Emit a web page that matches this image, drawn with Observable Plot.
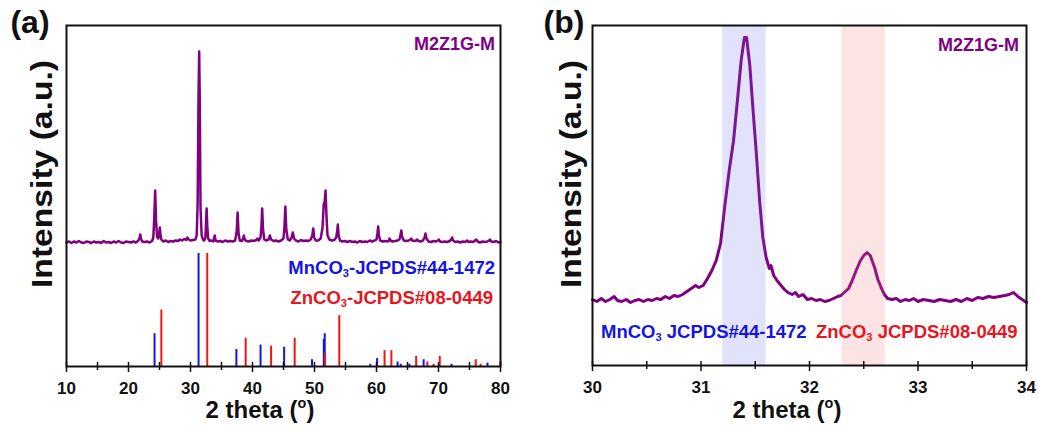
<!DOCTYPE html>
<html><head><meta charset="utf-8">
<script src="https://cdn.jsdelivr.net/npm/d3@7"></script>
<script src="https://cdn.jsdelivr.net/npm/@observablehq/plot@0.6"></script>
<style>
body{margin:0;background:#fff;}
#wrap{position:relative;width:1038px;height:432px;overflow:hidden;font-family:"Liberation Sans",Arial,sans-serif;font-weight:bold;color:#111;}
#wrap svg{position:absolute;top:0;}
.lbl{position:absolute;white-space:nowrap;line-height:1;}
.lbl sub{font-size:0.6em;vertical-align:-0.35em;}
.lbl sup{font-size:0.6em;vertical-align:0.7em;}
</style></head><body><div id="wrap"></div>
<script>
// ---------- Panel (a): full XRD pattern, 2θ (deg) vs intensity above baseline ----------
const patternA = [
[10.0,1],[10.4,2],[10.8,0.5],[11.2,2],[11.6,1],[12.0,2.5],[12.4,1],[12.8,0.5],[13.2,2],[13.6,1.5],
[14.0,0.5],[14.4,2],[14.8,1],[15.2,1.5],[15.6,0.5],[16.0,2.5],[16.4,1],[16.8,1.5],[17.2,0.5],[17.6,2],
[18.0,1],[18.4,2.5],[18.8,1],[19.2,0.5],[19.6,2],[20.0,1.5],[20.4,1],[20.8,2],[21.2,1],[21.6,3],
[21.8,6],[21.9,9],[22.0,5],[22.2,2],[22.6,1.5],[23.0,2],[23.4,1],[23.8,2.5],[24.0,6],[24.15,25],
[24.3,53],[24.45,22],[24.6,7],[24.8,5],[24.95,10],[25.05,16],[25.15,9],[25.3,4],[25.6,2],[26.0,3],
[26.4,1.5],[26.8,2.5],[27.2,2],[27.6,3],[28.0,2.5],[28.3,4],[28.6,3],[29.0,4.5],[29.3,3.5],[29.5,6],
[29.7,4],[30.0,3],[30.4,3.5],[30.8,4],[31.0,8],[31.15,40],[31.3,150],[31.4,192],[31.5,140],[31.62,35],
[31.8,8],[32.0,4],[32.2,3],[32.4,6],[32.5,20],[32.6,35],[32.7,18],[32.85,5],[33.1,2.5],[33.4,3],
[33.7,2],[33.9,8],[34.05,3],[34.4,2],[34.8,2.5],[35.2,1.5],[35.6,3],[36.0,2],[36.4,2.5],[36.8,2],
[37.2,3],[37.45,12],[37.6,31],[37.75,10],[37.95,3],[38.3,2.5],[38.5,5],[38.6,8],[38.75,4],[39.0,2.5],
[39.4,2],[39.8,3],[40.2,2.5],[40.6,3.5],[40.8,5],[41.0,3],[41.3,6],[41.45,18],[41.56,35],[41.7,14],
[41.9,4],[42.2,3],[42.6,4],[42.8,8],[43.0,4],[43.4,2.5],[43.8,3],[44.2,2],[44.6,3],[45.0,5],
[45.15,16],[45.3,37],[45.45,14],[45.7,4],[46.0,3],[46.3,6],[46.5,11],[46.7,5],[47.0,3],[47.4,2],
[47.8,3.5],[48.2,2.5],[48.6,3],[49.0,2.5],[49.4,4],[49.65,8],[49.8,15],[49.95,6],[50.2,3],[50.6,3],
[51.0,5],[51.3,16],[51.5,40],[51.65,42],[51.78,53],[51.95,25],[52.1,8],[52.4,4],[52.8,3],[53.2,3.5],
[53.5,6],[53.65,12],[53.76,19],[53.9,8],[54.1,3],[54.5,2],[54.9,2.5],[55.3,1.5],[55.7,2.5],[56.1,1.5],
[56.5,2],[56.9,1],[57.3,2.5],[57.7,1.5],[58.1,2],[58.5,1.5],[58.9,3],[59.3,2],[59.7,3],[60.0,4],
[60.15,10],[60.27,17],[60.4,8],[60.6,3],[61.0,2],[61.4,2.5],[61.8,2],[62.0,3],[62.1,5],[62.25,3],
[62.6,2],[63.0,2.5],[63.4,3],[63.7,4],[63.88,9],[64.0,13],[64.12,7],[64.4,3],[64.8,2.5],[65.2,3],
[65.45,4],[65.6,5],[65.75,3],[66.1,2.5],[66.4,3],[66.56,4],[66.75,2.5],[67.1,2],[67.5,3],[67.75,6],
[67.9,10],[68.05,5],[68.4,2],[68.8,1.5],[69.2,2.5],[69.6,2],[69.9,3],[70.05,4],[70.25,2],[70.6,1.5],
[71.0,2],[71.4,1.5],[71.8,2.5],[72.05,4],[72.2,6],[72.35,3],[72.7,1.5],[73.1,2],[73.5,1],[73.9,2],
[74.3,1.5],[74.6,3],[74.85,1.5],[75.2,2],[75.6,1.5],[75.9,3],[76.1,4],[76.3,2],[76.7,1],[77.1,2],
[77.5,1.5],[77.9,2],[78.15,3],[78.3,4],[78.5,2],[78.9,1.5],[79.3,2.5],[79.7,1],[80.0,1.5]
];
// Reference sticks: [2θ, relative intensity %]
const mnco3Sticks = [
[24.2,29],[31.3,100],[37.4,15],[41.3,19],[45.1,17],[49.6,6],[51.5,24],[51.65,29],
[59.0,2],[60.1,7],[63.4,4],[63.9,2],[65.3,2],[67.6,6],[72.1,2],[77.9,3]
];
const znco3Sticks = [
[25.3,50],[32.7,100],[38.9,25],[43.0,18],[46.8,25],[51.7,12],[54.0,45],[61.3,14],
[62.4,14],[66.4,9],[68.2,4],[69.2,2],[70.2,9],[76.0,6],[76.8,2],[80.0,4]
];
const ticksA = [10,20,30,40,50,60,70,80];
const minorTicksA = [15,25,35,45,55,65,75];

// ---------- Panel (b): zoomed region ----------
const patternB = [
[30.00,66],[30.04,64],[30.08,67],[30.12,64],[30.16,66],[30.20,69],[30.23,65],[30.27,64],[30.31,66],[30.35,63],
[30.39,65],[30.43,66],[30.47,64],[30.51,66],[30.55,65],[30.59,67],[30.63,66],[30.67,69],[30.71,67],[30.75,70],
[30.79,69],[30.83,71],[30.87,74],[30.91,77],[30.95,80],[30.98,78],[31.02,80],[31.06,87],[31.10,95],[31.14,105],
[31.18,122],[31.22,160],[31.26,195],[31.30,225],[31.34,270],[31.37,305],[31.40,328],[31.42,328],[31.45,300],[31.48,255],
[31.51,212],[31.54,165],[31.57,128],[31.60,108],[31.63,97],[31.645,100],[31.67,90],[31.70,85],[31.73,81],[31.77,76],
[31.80,73],[31.84,71],[31.87,73],[31.90,69],[31.94,71],[31.98,66],[32.02,67],[32.06,65],[32.10,66],[32.14,64],
[32.18,65],[32.22,67],[32.26,69],[32.29,70],[32.33,74],[32.36,77],[32.39,84],[32.43,95],[32.47,105],[32.50,110],
[32.53,113],[32.56,110],[32.60,98],[32.63,86],[32.66,78],[32.69,71],[32.72,67],[32.76,66],[32.80,67],[32.84,64],
[32.88,66],[32.92,65],[32.96,67],[33.00,64],[33.05,66],[33.10,65],[33.15,64],[33.20,66],[33.25,65],[33.30,64],
[33.35,66],[33.40,64],[33.45,67],[33.50,65],[33.55,68],[33.60,67],[33.65,69],[33.70,68],[33.75,69],[33.80,70],
[33.84,71],[33.88,73],[33.92,69],[33.96,66],[34.00,63]
];
const bandLo = [31.2, 32.3];
const bandHi = [31.6, 32.7];
const bandColor = ["#7070e8", "#f07878"];
const ticksB = [30,31,32,33,34];
const minorTicksB = [30.5,31.5,32.5,33.5];

const sampleName = "M2Z1G-M";
const font = "Liberation Sans, Arial, sans-serif";

const axisStyle = {fontSize: 17, fontWeight: "bold", fill: "#111"};

const plotA = Plot.plot({
  width: 520, height: 432,
  marginLeft: 66, marginRight: 20, marginTop: 25, marginBottom: 66,
  x: {domain: [10, 80]},
  y: {domain: [0, 341], axis: null},
  style: {fontFamily: font, fontWeight: "bold", background: "transparent", color: "#111", overflow: "visible"},
  marks: [
    Plot.ruleX(mnco3Sticks, {x: d => d[0], y1: 0, y2: d => d[1] * 1.13, stroke: "#1414f0", strokeWidth: 2}),
    Plot.ruleX(znco3Sticks, {x: d => d[0], y1: 0, y2: d => d[1] * 1.13, stroke: "#f01414", strokeWidth: 2}),
    Plot.line(patternA, {x: d => d[0], y: d => d[1] + 123, stroke: "#800080", strokeWidth: 2.5, curve: "linear"}),
    Plot.frame({stroke: "#111", strokeWidth: 2}),
    Plot.axisX({ticks: ticksA, tickSize: 6, tickPadding: 9, tickFormat: d => String(d), ...axisStyle, stroke: "#111", strokeWidth: 1.5}),
    Plot.axisX({ticks: minorTicksA, tickSize: 4, tickFormat: () => "", stroke: "#111", strokeWidth: 1.5}),
    Plot.axisX({ticks: ticksA.concat(minorTicksA), tickSize: -4, tickFormat: () => "", stroke: "#111", strokeWidth: 1.5})
  ]
});

const plotB = Plot.plot({
  width: 518, height: 432,
  marginLeft: 72, marginRight: 12, marginTop: 25, marginBottom: 67,
  x: {domain: [30, 34]},
  y: {domain: [0, 340], axis: null},
  style: {fontFamily: font, fontWeight: "bold", background: "transparent", color: "#111", overflow: "visible"},
  marks: [
    Plot.line(patternB, {x: d => d[0], y: d => d[1], stroke: "#800080", strokeWidth: 3, curve: "linear"}),
    Plot.rect(d3.range(bandLo.length), {x1: i => bandLo[i], x2: i => bandHi[i], fill: i => bandColor[i], fillOpacity: 0.2}),
    Plot.frame({stroke: "#111", strokeWidth: 2}),
    Plot.axisX({ticks: ticksB, tickSize: 6, tickPadding: 9, tickFormat: d => String(d), ...axisStyle, stroke: "#111", strokeWidth: 1.5}),
    Plot.axisX({ticks: minorTicksB, tickSize: 4, tickFormat: () => "", stroke: "#111", strokeWidth: 1.5}),
    Plot.axisX({ticks: ticksB.concat(minorTicksB), tickSize: -4, tickFormat: () => "", stroke: "#111", strokeWidth: 1.5})
  ]
});

const wrap = document.getElementById("wrap");
plotA.style.left = "0px";
plotB.style.left = "520px";
wrap.appendChild(plotA);
wrap.appendChild(plotB);

function label(html, opts) {
  const el = document.createElement("div");
  el.className = "lbl";
  el.innerHTML = html;
  el.style.fontSize = opts.size + "px";
  if (opts.color) el.style.color = opts.color;
  let tx = "-50%";
  if (opts.right !== undefined) { el.style.right = (1038 - opts.right) + "px"; tx = "0"; }
  else if (opts.left !== undefined) { el.style.left = opts.left + "px"; tx = "0"; }
  else el.style.left = opts.cx + "px";
  el.style.top = opts.cy + "px";
  el.style.transform = `translate(${tx},-50%)` + (opts.rotate ? ` rotate(${opts.rotate}deg)` : "") + (opts.sx ? ` scaleX(${opts.sx})` : "");
  wrap.appendChild(el);
}
// panel letters
label("(a)", {cx: 30, cy: 22, size: 32});
label("(b)", {cx: 564, cy: 22, size: 32});
// y titles
label("Intensity (a.u.)", {cx: 42, cy: 174, size: 29, rotate: -90, sx: 1.16});
label("Intensity (a.u.)", {cx: 571, cy: 174, size: 29, rotate: -90, sx: 1.16});
// x titles
label("2 theta (<sup>o</sup>)", {cx: 260, cy: 409, size: 24});
label("2 theta (<sup>o</sup>)", {cx: 787, cy: 409, size: 24});
// sample names
label(sampleName, {right: 495, cy: 44, size: 18, color: "#800080"});
label(sampleName, {right: 1019, cy: 45, size: 18, color: "#800080"});
// reference cards
label("MnCO<sub>3</sub>-JCPDS#44-1472", {right: 495, cy: 269, size: 18.5, color: "#1414e6"});
label("ZnCO<sub>3</sub>-JCPDS#08-0449", {right: 493, cy: 299, size: 18.5, color: "#e8141e"});
label("MnCO<sub>3</sub> JCPDS#44-1472", {left: 601, cy: 333, size: 18.5, color: "#1414e6"});
label("ZnCO<sub>3</sub> JCPDS#08-0449", {left: 816, cy: 333, size: 18.5, color: "#e8141e"});
</script></body></html>
